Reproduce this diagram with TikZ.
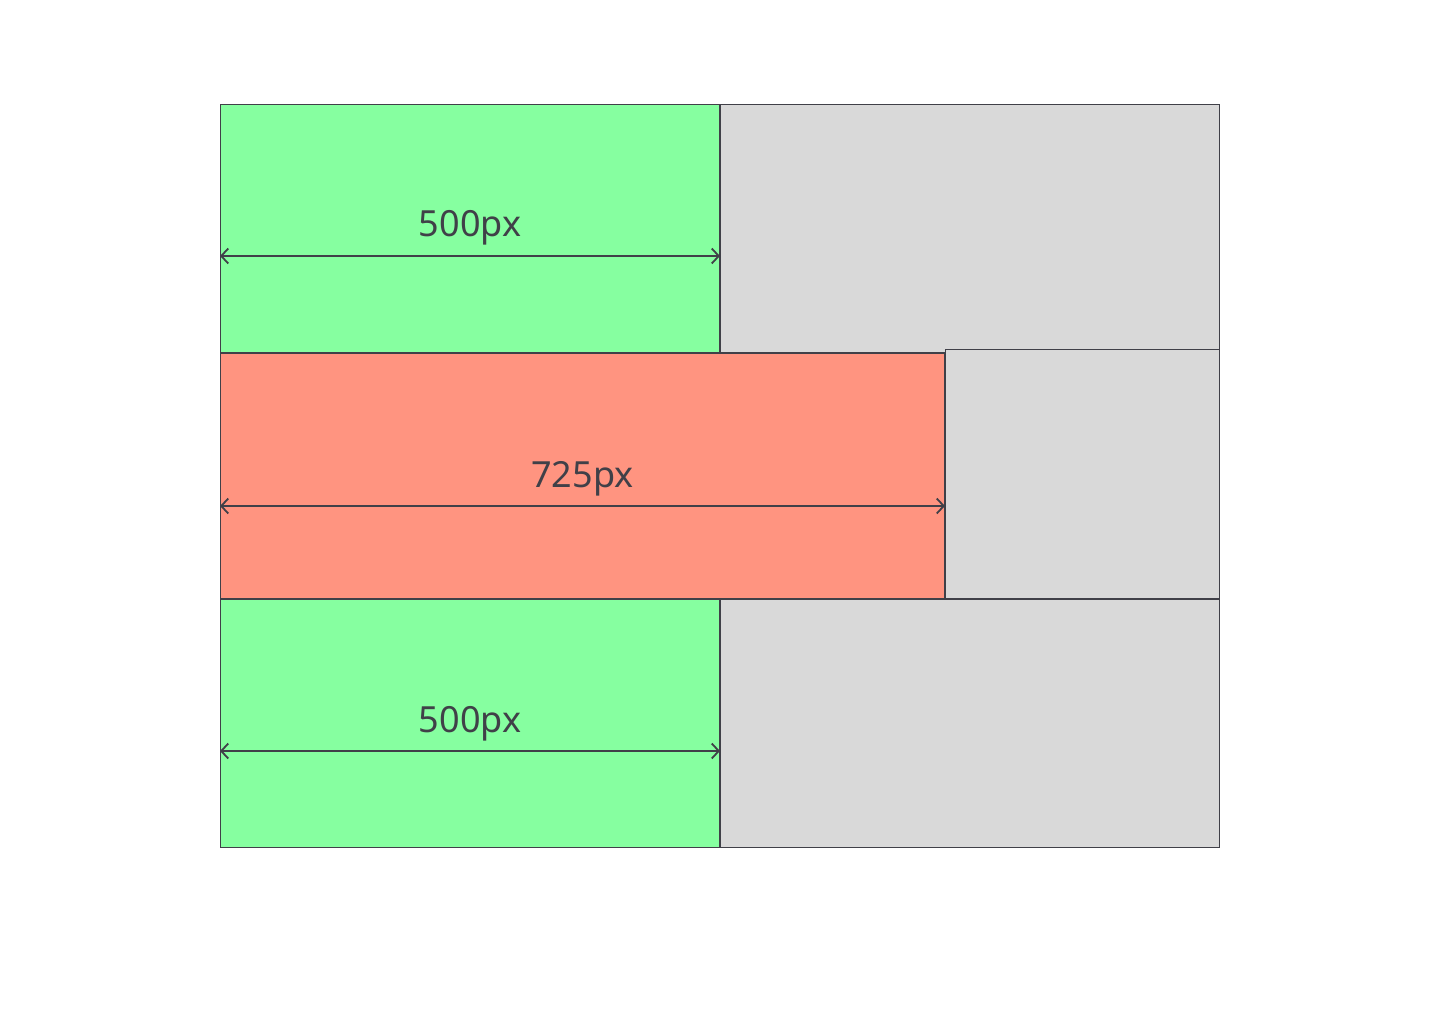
\documentclass[tikz,border=0pt]{standalone}
\usepackage{fontspec}
\setmainfont{Noto Sans}
\usetikzlibrary{arrows.meta}
\definecolor{boxgreen}{HTML}{86FFA0}
\definecolor{boxred}{HTML}{FF9480}
\definecolor{boxgray}{HTML}{D9D9D9}
\definecolor{ink}{HTML}{404048}
\begin{document}
\begin{tikzpicture}[x=1pt,y=-1pt,
  panel/.style={draw=ink,line width=1pt},
  dim/.style={draw=ink,line width=2pt,{Straight Barb[length=7pt,width=15pt,line width=1.8pt]}-{Straight Barb[length=7pt,width=15pt,line width=1.8pt]}},
  dimlabel/.style={anchor=base,text=ink,inner sep=0pt,font=\fontsize{36}{43}\selectfont}]
\useasboundingbox[fill=white] (0,0) rectangle (1440,1024);
% top row
\draw[panel,fill=boxgreen] (220.5,104.5) rectangle (719.5,352.5);
\draw[panel,fill=boxgray] (720.5,104.5) rectangle (1219.5,352.5);
% bottom row
\draw[panel,fill=boxgreen] (220.5,599.5) rectangle (719.5,847.5);
\draw[panel,fill=boxgray] (720.5,599.5) rectangle (1219.5,847.5);
% middle row
\draw[panel,fill=boxgray] (945.5,349.5) rectangle (1219.5,598.5);
\draw[panel,fill=boxred] (220.5,353.5) rectangle (944.5,598.5);
% dimension lines
\coordinate (t1) at (220,256); \coordinate (t2) at (720,256);
\coordinate (m1) at (220,506); \coordinate (m2) at (945,506);
\coordinate (b1) at (220,751); \coordinate (b2) at (720,751);
\draw[dim] (t1) -- (t2);
\draw[dim] (m1) -- (m2);
\draw[dim] (b1) -- (b2);
\node[dimlabel] (lt) at (470,237) {500px};
\node[dimlabel] (lm) at (582.5,487) {725px};
\node[dimlabel] (lb) at (470,732) {500px};
\end{tikzpicture}
\end{document}
